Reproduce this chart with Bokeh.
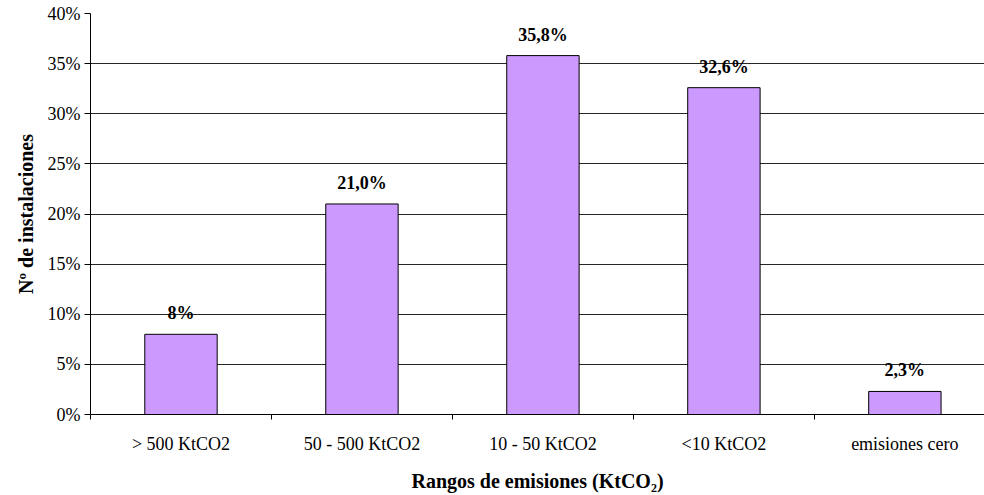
from bokeh.plotting import figure
from bokeh.models import ColumnDataSource, Range1d, FixedTicker, LabelSet
from bokeh.embed import file_html
from bokeh.resources import INLINE

# Share of installations by emission range
categories = ["> 500 KtCO2", "50 - 500 KtCO2", "10 - 50 KtCO2", "<10 KtCO2", "emisiones cero"]
shares = [8.0, 21.0, 35.8, 32.6, 2.3]
share_labels = ["8%", "21,0%", "35,8%", "32,6%", "2,3%"]
y_ticks = [0, 5, 10, 15, 20, 25, 30, 35, 40]
y_tick_labels = ["0%", "5%", "10%", "15%", "20%", "25%", "30%", "35%", "40%"]

FONT = "'Liberation Serif', 'Times New Roman', serif"

centers = [i + 0.5 for i in range(len(categories))]
src = ColumnDataSource(dict(x=centers, top=shares, label=share_labels))

p = figure(frame_width=894, frame_height=401, output_backend="svg", toolbar_location=None,
           x_range=Range1d(0, 4.94), y_range=Range1d(0, 40),
           min_border_left=90, min_border_right=0, min_border_top=13, min_border_bottom=81)
p.outline_line_color = None
p.background_fill_color = "white"

p.vbar(x="x", top="top", width=0.4, bottom=0, source=src,
       fill_color="#CC99FF", line_color="#000000", line_width=1)

p.add_layout(LabelSet(x="x", y="top", text="label", source=src,
                      text_align="center", text_baseline="bottom", y_offset=11,
                      text_font=FONT, text_font_size="18px", text_font_style="bold",
                      text_color="#000000"))

# x axis: category names centred, tick marks between categories
p.xaxis.ticker = FixedTicker(ticks=centers, minor_ticks=[0, 1, 2, 3, 4, 5])
p.xaxis.major_label_overrides = {c: n for c, n in zip(centers, categories)}
p.xaxis.major_tick_out = 0
p.xaxis.major_tick_in = 0
p.xaxis.minor_tick_out = 5
p.xaxis.minor_tick_in = 0
p.xaxis.minor_tick_line_color = "#000000"
p.xaxis.axis_line_color = "#000000"
p.xaxis.major_label_text_font = FONT
p.xaxis.major_label_text_font_size = "18px"
p.xaxis.major_label_text_color = "#000000"
p.xaxis.major_label_standoff = 14

p.xaxis.axis_label = "Rangos de emisiones (KtCO₂)"
p.xaxis.axis_label_text_font = FONT
p.xaxis.axis_label_text_font_size = "20px"
p.xaxis.axis_label_text_font_style = "bold"
p.xaxis.axis_label_text_color = "#000000"
p.xaxis.axis_label_standoff = 13

# y axis: percentages
p.yaxis.ticker = FixedTicker(ticks=y_ticks)
p.yaxis.major_label_overrides = {t: l for t, l in zip(y_ticks, y_tick_labels)}
p.yaxis.major_tick_out = 6
p.yaxis.major_tick_in = 0
p.yaxis.minor_tick_line_color = None
p.yaxis.axis_line_color = "#000000"
p.yaxis.major_tick_line_color = "#000000"
p.yaxis.major_label_text_font = FONT
p.yaxis.major_label_text_font_size = "18px"
p.yaxis.major_label_text_color = "#000000"
p.yaxis.major_label_standoff = 4

p.yaxis.axis_label = "Nº de instalaciones"
p.yaxis.axis_label_text_font = FONT
p.yaxis.axis_label_text_font_size = "20px"
p.yaxis.axis_label_text_font_style = "bold"
p.yaxis.axis_label_text_color = "#000000"
p.yaxis.axis_label_standoff = 8

p.xgrid.grid_line_color = None
p.ygrid.ticker = FixedTicker(ticks=y_ticks)
p.ygrid.grid_line_color = "#000000"
p.ygrid.grid_line_width = 1
p.ygrid.grid_line_alpha = 0.85

open("out.html", "w").write(file_html(p, INLINE))
